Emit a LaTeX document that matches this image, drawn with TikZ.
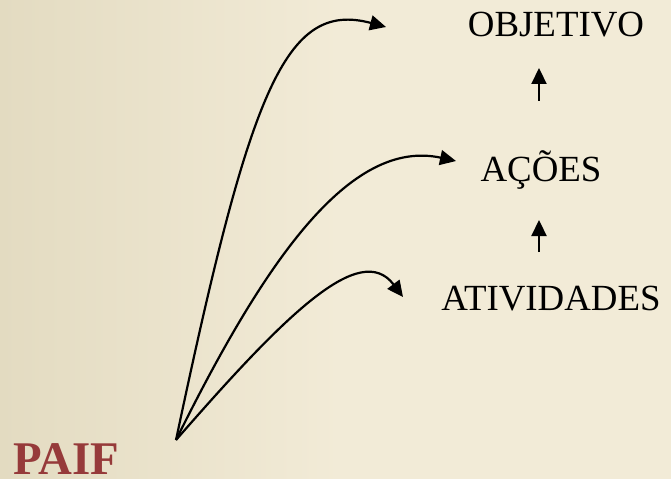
\documentclass[tikz,border=0pt]{standalone}
\usepackage{fontspec}
\setmainfont{Liberation Serif}
\usetikzlibrary{arrows.meta, calc}
\definecolor{fundoEsq}{HTML}{E3DBC1}
\definecolor{fundoDir}{HTML}{F2EBD7}
\definecolor{paifRed}{HTML}{963A3A}
\tikzset{
  etapa/.style={anchor=base, inner sep=0pt, font=\fontsize{37}{40}\selectfont},
  seta/.style={-{Triangle[length=16bp, width=15bp]}, line width=2.2bp, black},
}
\begin{document}
\begin{tikzpicture}[x=1bp, y=-1bp]
  % fundo
  \useasboundingbox (0,0) rectangle (671,479);
  \shade[left color=fundoEsq, right color=fundoDir] (0,0) rectangle (340,479);
  \fill[fundoDir] (339,0) rectangle (671,479);

  \node[etapa] (objetivo) at (556,37) {OBJETIVO};
  \node[etapa] (acoes) at (541,182) {AÇÕES};
  \node[etapa] (atividades) at (551,310) {ATIVIDADES};
  \node[anchor=base west, inner sep=0pt, text=paifRed,
        font=\fontsize{47}{52}\selectfont\bfseries] (paif) at (13,474) {PAIF};

  \coordinate (o) at (176,440);
  \coordinate (p1) at (386,27);
  \coordinate (p2) at (456,161);
  \coordinate (p3) at (403,297);
  \draw[seta] (o) .. controls (250,90) and (285,0) .. (p1);
  \draw[seta] (o) .. controls (265,260) and (350,138) .. (p2);
  \draw[seta] (o) .. controls (285,315) and (360,240) .. (p3);

  % entre as etapas
  \draw[seta] ($(atividades.base)+(-12,-58)$) -- ($(acoes.base)+(-2,38)$);
  \draw[seta] ($(acoes.base)+(-2,-81)$) -- ($(objetivo.base)+(-17,31)$);
\end{tikzpicture}
\end{document}
